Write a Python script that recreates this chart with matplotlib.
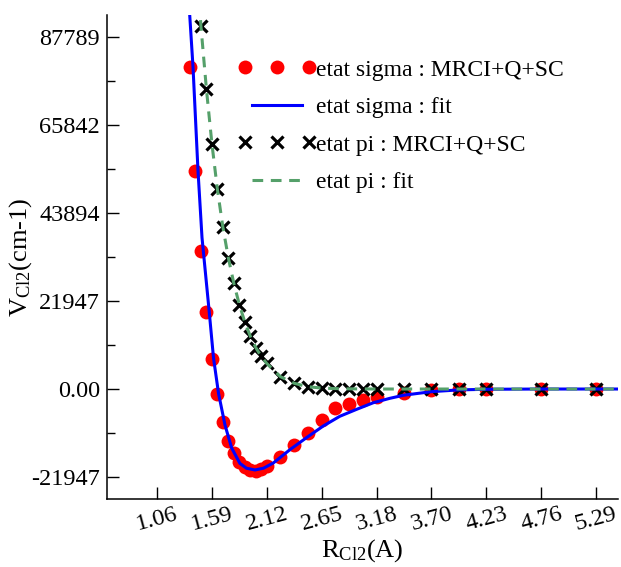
import matplotlib
matplotlib.use("Agg")
import matplotlib.pyplot as plt
from matplotlib.legend_handler import HandlerLine2D

plt.rcParams["font.family"] = ["Liberation Serif", "DejaVu Serif"]
plt.rcParams["mathtext.fontset"] = "custom"
plt.rcParams["mathtext.rm"] = "Liberation Serif"
plt.rcParams["mathtext.it"] = "Liberation Serif:italic"

BOHR = 0.529177       # A per bohr
HARTREE = 219474.63   # cm-1 per hartree

# ── data (R in bohr, E in hartree) ───────────────────────────────────────────
sigma_R = [2.6, 2.7, 2.8, 2.9, 3.0, 3.1, 3.2, 3.3, 3.4, 3.5, 3.6, 3.7, 3.8, 3.9,
           4.0, 4.25, 4.5, 4.75, 5.0, 5.25, 5.5, 5.75, 6.0, 6.5, 7.0, 7.5, 8.0,
           9.0, 10.0]
sigma_E = [0.366, 0.248, 0.157, 0.087, 0.034, -0.006, -0.037, -0.059, -0.073,
           -0.083, -0.089, -0.092, -0.093, -0.091, -0.088, -0.077, -0.064,
           -0.050, -0.035, -0.022, -0.017, -0.012, -0.009, -0.004, -0.001,
           0.0, 0.0, 0.0, 0.0]

sigma_fit_R = [2.57, 2.596, 2.656, 2.747, 2.82, 2.948, 3.03, 3.121, 3.239, 3.36,
               3.51, 3.63, 3.785, 3.94, 4.12, 4.42, 4.73, 5.03, 5.33, 5.64,
               5.94, 6.24, 6.5, 7.0, 7.5, 8.0, 9.0, 10.5]
sigma_fit_E = [0.46, 0.425, 0.366, 0.248, 0.172, 0.090, 0.035, -0.005, -0.041,
               -0.067, -0.0845, -0.090, -0.092, -0.090, -0.084, -0.069, -0.055,
               -0.042, -0.031, -0.023, -0.0156, -0.0106, -0.007, -0.003, -0.001,
               -0.0003, 0.0, 0.0]

pi_R = [2.8, 2.9, 3.0, 3.1, 3.2, 3.3, 3.4, 3.5, 3.6, 3.7, 3.8, 3.9, 4.0, 4.25,
        4.5, 4.75, 5.0, 5.25, 5.5, 5.75, 6.0, 6.5, 7.0, 7.5, 8.0, 9.0, 10.0]
pi_E = [0.4125, 0.341, 0.279, 0.227, 0.184, 0.149, 0.120, 0.096, 0.076, 0.060,
        0.047, 0.037, 0.029, 0.014, 0.0065, 0.0026, 0.0011, 0.0005, 0.0002,
        0.0001, 0.0, 0.0, 0.0, 0.0, 0.0, 0.0, 0.0]

pi_fit_R = [2.77] + pi_R + [10.5]
pi_fit_E = [0.44] + pi_E + [0.0]

xtick_bohr = [2, 3, 4, 5, 6, 7, 8, 9, 10]
xtick_labels = ["1.06", "1.59", "2.12", "2.65", "3.18", "3.70", "4.23", "4.76", "5.29"]
ytick_hartree = [-0.1, 0.0, 0.1, 0.2, 0.3, 0.4]
ytick_labels = ["-21947", "0.00", "21947", "43894", "65842", "87789"]

labels = ["etat sigma : MRCI+Q+SC", "etat sigma : fit",
          "etat pi : MRCI+Q+SC", "etat pi : fit"]

# ── plot ─────────────────────────────────────────────────────────────────────
fig = plt.figure(figsize=(6.21, 5.67), dpi=100)
ax = fig.add_axes([0.1723, 0.1199, 0.8227, 0.8536])

def a(r): return [v * BOHR for v in r]
def cm(e): return [v * HARTREE for v in e]

h_sig, = ax.plot(a(sigma_R), cm(sigma_E), "o", color="#ff0000", ms=10,
                 mec="none", zorder=2, label=labels[0])
h_pi, = ax.plot(a(pi_R), cm(pi_E), "x", color="black", ms=9, mew=2.3,
                zorder=3, label=labels[2])
h_sfit, = ax.plot(a(sigma_fit_R), cm(sigma_fit_E), "-", color="#0000ff",
                  lw=2.2, zorder=4, label=labels[1])
h_pfit, = ax.plot(a(pi_fit_R), cm(pi_fit_E), "--", color="#55a06a", lw=2.2,
                  dashes=(3.5, 2.5), zorder=5, label=labels[3])

ax.set_xlim(1.089 * BOHR, 10.397 * BOHR)
ax.set_ylim(-0.125 * HARTREE, 0.425 * HARTREE)

ax.set_xticks(a(xtick_bohr))
ax.set_xticklabels(xtick_labels, rotation=15, fontsize=17.5)
ax.set_yticks(cm(ytick_hartree))
ax.set_yticklabels(ytick_labels, fontsize=17.5)
ax.set_yticks(cm([-0.05, 0.05, 0.15, 0.25, 0.35]), minor=True)
ax.tick_params(axis="both", which="major", direction="in", length=8.5, width=1.0)
ax.tick_params(axis="y", which="minor", direction="in", length=5.5, width=1.0)
ax.tick_params(axis="x", which="major", pad=3)
ax.tick_params(axis="y", which="major", pad=5)

for s in ("top", "right"):
    ax.spines[s].set_visible(False)
for s in ("left", "bottom"):
    ax.spines[s].set_linewidth(1.1)

ax.set_xlabel(r"R$_{\rm Cl2}$(A)", fontsize=19, labelpad=2)
ax.set_ylabel(r"V$_{\rm Cl2}$(cm-1)", fontsize=19)
ax.yaxis.set_label_coords(-0.143, 0.5)

ax.legend(handles=[h_sig, h_sfit, h_pi, h_pfit], loc="upper left",
          bbox_to_anchor=(0.27, 0.909), frameon=False, fontsize=17,
          numpoints=3, handlelength=2.7, handletextpad=0.3,
          labelspacing=0.68, borderpad=0, borderaxespad=0,
          handler_map={h_sig: HandlerLine2D(marker_pad=0),
                       h_pi: HandlerLine2D(marker_pad=0)})

fig.savefig("out.png", dpi=100)
